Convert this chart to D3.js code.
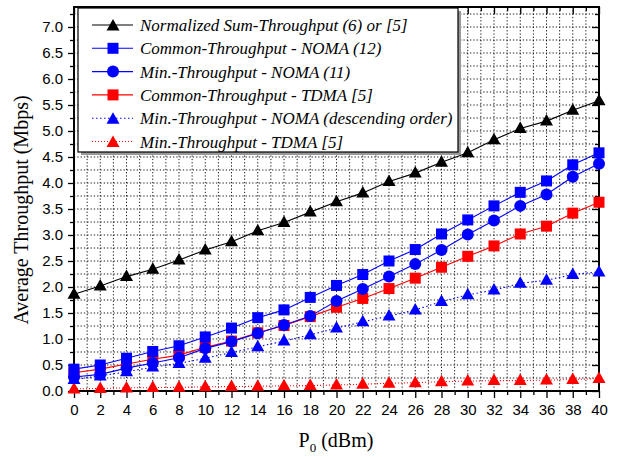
<!DOCTYPE html>
<html><head><meta charset="utf-8">
<script src="https://cdn.jsdelivr.net/npm/d3@7"></script>
<style>body{margin:0;background:#fff}svg{display:block}
.serif{font-family:"Liberation Serif","Times New Roman","DejaVu Serif",serif}
.sans{font-family:"Liberation Sans",Arial,sans-serif}</style>
</head><body>
<svg id="c" width="619" height="457"></svg>
<script>
const xVals = [0,2,4,6,8,10,12,14,16,18,20,22,24,26,28,30,32,34,36,38,40];
const sumThroughput   = [1.86,2.02,2.20,2.34,2.52,2.71,2.87,3.08,3.24,3.44,3.64,3.81,4.03,4.19,4.40,4.58,4.83,5.05,5.19,5.40,5.58];
const commonNoma      = [0.42,0.50,0.63,0.76,0.87,1.04,1.21,1.41,1.56,1.80,2.03,2.24,2.50,2.72,3.02,3.29,3.56,3.82,4.04,4.35,4.58];
const minNoma         = [0.27,0.32,0.44,0.54,0.64,0.82,0.95,1.11,1.27,1.44,1.73,1.96,2.20,2.44,2.71,3.01,3.28,3.56,3.78,4.12,4.37];
const commonTdma      = [0.35,0.42,0.52,0.61,0.69,0.84,0.96,1.12,1.26,1.43,1.61,1.78,1.97,2.17,2.38,2.59,2.79,3.02,3.17,3.42,3.63];
const minNomaDesc     = [0.22,0.29,0.37,0.46,0.53,0.63,0.74,0.85,0.96,1.08,1.21,1.33,1.44,1.56,1.72,1.85,1.94,2.07,2.13,2.24,2.29];
const minTdma         = [0.04,0.05,0.06,0.065,0.07,0.08,0.085,0.09,0.10,0.105,0.115,0.13,0.15,0.16,0.18,0.19,0.20,0.20,0.21,0.22,0.24];
const seriesNames = ["Normalized Sum-Throughput (6) or [5]","Common-Throughput - NOMA (12)","Min.-Throughput - NOMA (11)","Common-Throughput - TDMA [5]","Min.-Throughput - NOMA (descending order)","Min.-Throughput - TDMA [5]"];
const xTickLabels = d3.range(0,41,2);
const yTickLabels = d3.range(0,7.01,0.5);
const xTitle = "P", xTitleSub = "0", xTitleRest = " (dBm)";
const yTitle = "Average Throughput (Mbps)";

const series = [
  {name:seriesNames[0], v:sumThroughput, color:"#000", marker:"tri", dash:null},
  {name:seriesNames[1], v:commonNoma, color:"#0000ff", marker:"sq", dash:null},
  {name:seriesNames[2], v:minNoma, color:"#0000ff", marker:"circ", dash:null},
  {name:seriesNames[3], v:commonTdma, color:"#ff0000", marker:"sq", dash:null},
  {name:seriesNames[4], v:minNomaDesc, color:"#0000ff", marker:"tri", dash:"1.5,2.5"},
  {name:seriesNames[5], v:minTdma, color:"#ff0000", marker:"tri", dash:"1,2"}
];

const L=74, R=599, B=391, T=7;
const x = d3.scaleLinear().domain([0,40]).range([L,R]);
const y = d3.scaleLinear().domain([0,7]).range([B,27]);
const yTop = y.invert(T);
const svg = d3.select("#c");

// grid
const gx = d3.range(1,40,1), gy = d3.range(0.25,yTop,0.25);
svg.append("g").selectAll("line").data(gx).join("line")
  .attr("x1",d=>x(d)).attr("x2",d=>x(d)).attr("y1",T).attr("y2",B)
  .attr("stroke","#000").attr("stroke-width",0.9).attr("stroke-dasharray","1.3,2");
svg.append("g").selectAll("line").data(gy).join("line")
  .attr("x1",L).attr("x2",R).attr("y1",d=>y(d)).attr("y2",d=>y(d))
  .attr("stroke","#000").attr("stroke-width",0.9).attr("stroke-dasharray","1.3,2");

// axes
const xMinor = d3.range(1,40,2);
const yMinor = d3.range(0.25,yTop,0.5);
const bottom = svg.append("g").attr("transform",`translate(0,${B})`)
  .call(d3.axisBottom(x).tickValues(xTickLabels).tickFormat(d3.format("d")).tickSize(7).tickPadding(6));
bottom.selectAll("text").attr("class","sans").attr("font-family",null).attr("font-size",15).attr("fill","#000");
svg.append("g").attr("transform",`translate(0,${B})`).call(d3.axisBottom(x).tickValues(xMinor).tickFormat("").tickSize(4));
svg.append("g").attr("transform",`translate(0,${T})`).call(d3.axisBottom(x).tickValues(xTickLabels).tickFormat("").tickSize(7));
svg.append("g").attr("transform",`translate(0,${T})`).call(d3.axisBottom(x).tickValues(xMinor).tickFormat("").tickSize(4));
const left = svg.append("g").attr("transform",`translate(${L},0)`)
  .call(d3.axisLeft(y).tickValues(yTickLabels).tickFormat(d3.format(".1f")).tickSize(6).tickPadding(5));
left.selectAll("text").attr("class","sans").attr("font-size",15).attr("fill","#000");
svg.append("g").attr("transform",`translate(${L},0)`).call(d3.axisLeft(y).tickValues(yMinor).tickFormat("").tickSize(4));
svg.append("g").attr("transform",`translate(${R},0)`).call(d3.axisLeft(y).tickValues(yTickLabels).tickFormat("").tickSize(7));
svg.append("g").attr("transform",`translate(${R},0)`).call(d3.axisLeft(y).tickValues(yMinor).tickFormat("").tickSize(4));
svg.selectAll("g[font-family]").attr("font-family",null);
svg.selectAll(".domain").remove();
svg.selectAll(".tick line").attr("stroke","#000").attr("stroke-width",1.3);
svg.append("rect").attr("x",L).attr("y",T).attr("width",R-L).attr("height",B-T)
  .attr("fill","none").attr("stroke","#000").attr("stroke-width",2);

// markers
function marker(g, type, cx, cy, color){
  if(type==="tri"){
    g.append("path").attr("d",`M${cx},${cy-7}L${cx+6.5},${cy+4.5}L${cx-6.5},${cy+4.5}Z`).attr("fill",color);
  } else if(type==="sq"){
    g.append("rect").attr("x",cx-5.5).attr("y",cy-5.5).attr("width",11).attr("height",11).attr("fill",color);
  } else {
    g.append("circle").attr("cx",cx).attr("cy",cy).attr("r",6).attr("fill",color);
  }
}
const line = d3.line().x((d,i)=>x(xVals[i])).y(d=>y(d));
const dataG = svg.append("g");
series.slice().reverse().forEach(s=>{
  dataG.append("path").attr("d",line(s.v)).attr("fill","none").attr("stroke",s.color)
    .attr("stroke-width",1.1).attr("stroke-dasharray",s.dash);
});
series.slice().reverse().forEach(s=>{
  const g = dataG.append("g");
  s.v.forEach((v,i)=>marker(g,s.marker,x(xVals[i]),y(v),s.color));
});

// legend
const lg = svg.append("g");
lg.append("rect").attr("x",81).attr("y",11).attr("width",380).attr("height",144).attr("fill","#999");
lg.append("rect").attr("x",78).attr("y",8).attr("width",380).attr("height",144).attr("fill","#fff").attr("stroke","#000").attr("stroke-width",1.2);
series.forEach((s,i)=>{
  const cy = 25 + i*23.3;
  lg.append("line").attr("x1",92).attr("x2",133).attr("y1",cy).attr("y2",cy)
    .attr("stroke",s.color).attr("stroke-width",1.1).attr("stroke-dasharray",s.dash);
  marker(lg,s.marker,113,cy+(s.marker==="tri"?1:0),s.color);
  lg.append("text").attr("class","serif").attr("x",140).attr("y",cy+6)
    .attr("font-style","italic").attr("font-size",17).attr("fill","#000").text(s.name);
});

// titles
const xt = svg.append("text").attr("class","serif").attr("x",336).attr("y",447).attr("text-anchor","middle")
  .attr("font-size",20).attr("fill","#000");
xt.append("tspan").text(xTitle);
xt.append("tspan").attr("font-size",13).attr("dy",5).text(xTitleSub);
xt.append("tspan").attr("dy",-5).text(xTitleRest);
svg.append("text").attr("class","serif").attr("transform","translate(28,210) rotate(-90)").attr("text-anchor","middle")
  .attr("font-size",20).attr("fill","#000").text(yTitle);
</script>
</body></html>
